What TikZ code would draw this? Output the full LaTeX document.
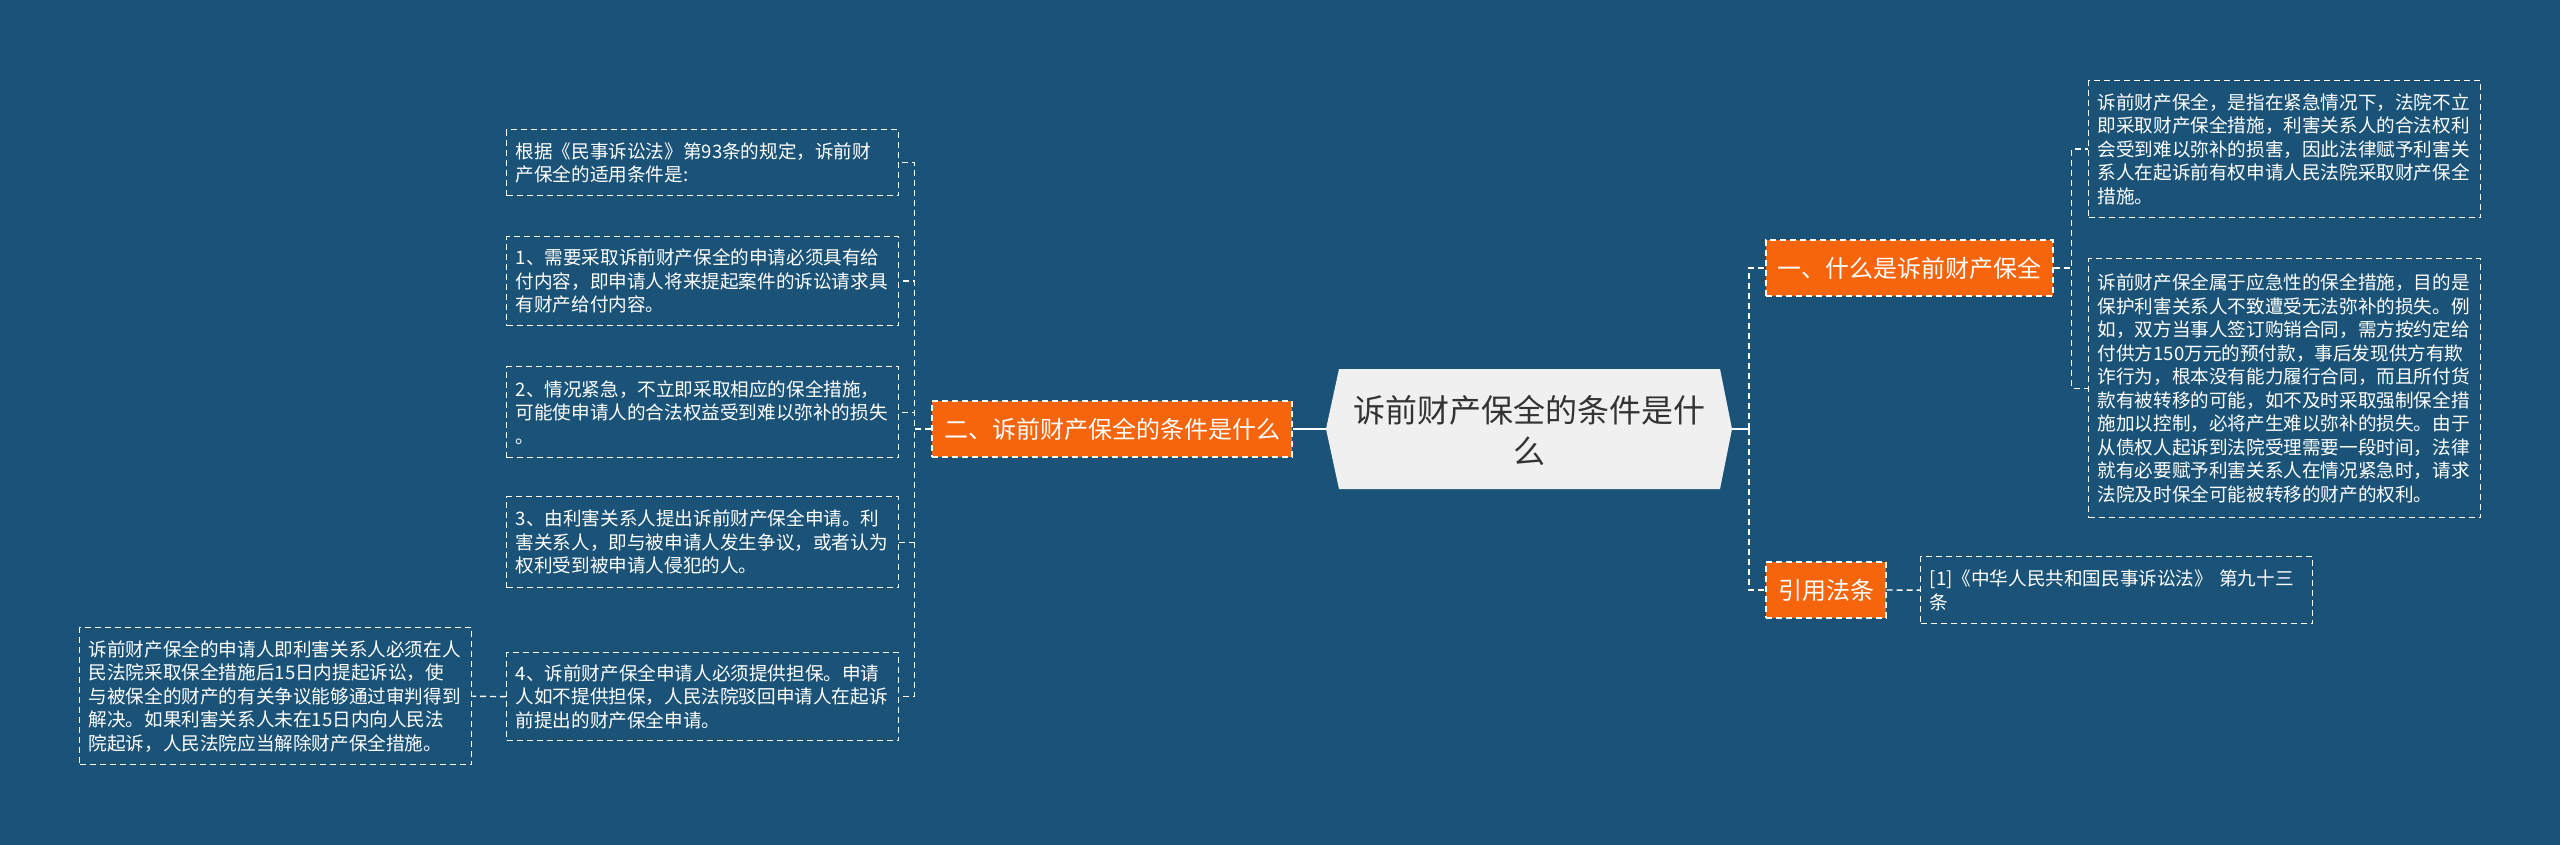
\documentclass[tikz,border=0pt]{standalone}
\usepackage{fontspec}
\newfontfamily\cjk{Noto Sans CJK SC}
\definecolor{bg}{HTML}{1A5377}
\definecolor{org}{HTML}{F6640C}
\definecolor{cfill}{HTML}{F0F0F0}
\definecolor{ctext}{HTML}{333333}
\begin{document}
\begin{tikzpicture}[x=0.5pt,y=-0.5pt,
  leaf/.style={draw=white, line width=0.7pt, dash pattern=on 3pt off 2pt, text=white,
    font=\cjk\fontsize{9.3pt}{11.75pt}\selectfont, align=left, inner xsep=4.5pt,
    inner ysep=0pt, text width=187pt, anchor=north west},
  branch/.style={fill=org, draw=white, line width=0.7pt, dash pattern=on 3pt off 2pt,
    text=white, font=\cjk\fontsize{12pt}{14pt}\selectfont, minimum height=28pt,
    inner xsep=0pt, inner ysep=0pt},
  conn/.style={draw=white, line width=0.7pt, dash pattern=on 3pt off 2pt},
  stub/.style={draw=white, line width=1pt}]
\fill[bg] (0,0) rectangle (2560,845);
\useasboundingbox (0,0) rectangle (2560,845);
% center
\fill[cfill] (1326,429) -- (1339,369) -- (1720,369) -- (1732,429) -- (1720,489) -- (1339,489) -- cycle;
\node[text=ctext, font=\cjk\fontsize{16pt}{20.5pt}\selectfont, align=center] (c) at (1529,430) {诉前财产保全的条件是什\\么};
\coordinate (cW) at (1326,429);
\coordinate (cE) at (1732,429);
\coordinate (jR) at (1749,429);
% branches
\node[branch, minimum width=180pt] (b2) at (1112,429) {二、诉前财产保全的条件是什么};
\node[branch, minimum width=143.5pt] (b1) at (1909.5,268) {一、什么是诉前财产保全};
\node[branch, minimum width=60pt] (b3) at (1826,590) {引用法条};
% left leaves
\node[leaf, minimum height=33pt] (l0) at (506,129) {根据《民事诉讼法》第93条的规定，诉前财\\产保全的适用条件是:};
\node[leaf, minimum height=44.5pt] (l1) at (506,236) {1、需要采取诉前财产保全的申请必须具有给\\付内容，即申请人将来提起案件的诉讼请求具\\有财产给付内容。};
\node[leaf, minimum height=45.5pt] (l2) at (506,366) {2、情况紧急，不立即采取相应的保全措施，\\可能使申请人的合法权益受到难以弥补的损失\\。};
\node[leaf, minimum height=45.5pt] (l3) at (506,496) {3、由利害关系人提出诉前财产保全申请。利\\害关系人，即与被申请人发生争议，或者认为\\权利受到被申请人侵犯的人。};
\node[leaf, minimum height=44pt] (l4) at (506,652) {4、诉前财产保全申请人必须提供担保。申请\\人如不提供担保，人民法院驳回申请人在起诉\\前提出的财产保全申请。};
\node[leaf, minimum height=68.5pt] (l5) at (79,627) {诉前财产保全的申请人即利害关系人必须在人\\民法院采取保全措施后15日内提起诉讼，使\\与被保全的财产的有关争议能够通过审判得到\\解决。如果利害关系人未在15日内向人民法\\院起诉，人民法院应当解除财产保全措施。};
% right leaves
\node[leaf, minimum height=68.5pt] (r1a) at (2088,80) {诉前财产保全，是指在紧急情况下，法院不立\\即采取财产保全措施，利害关系人的合法权利\\会受到难以弥补的损害，因此法律赋予利害关\\系人在起诉前有权申请人民法院采取财产保全\\措施。};
\node[leaf, minimum height=129.5pt] (r1b) at (2088,258) {诉前财产保全属于应急性的保全措施，目的是\\保护利害关系人不致遭受无法弥补的损失。例\\如，双方当事人签订购销合同，需方按约定给\\付供方150万元的预付款，事后发现供方有欺\\诈行为，根本没有能力履行合同，而且所付货\\款有被转移的可能，如不及时采取强制保全措\\施加以控制，必将产生难以弥补的损失。由于\\从债权人起诉到法院受理需要一段时间，法律\\就有必要赋予利害关系人在情况紧急时，请求\\法院及时保全可能被转移的财产的权利。};
\node[leaf, minimum height=33.5pt] (r2a) at (1920,556) {[1]《中华人民共和国民事诉讼法》 第九十三\\条};
% connectors
\draw[stub] (cW) -- (b2.east);
\draw[conn] (b2.west) -- ++(-17,0) |- (l0.east);
\draw[conn] (b2.west) -- ++(-17,0) |- (l1.east);
\draw[conn] (b2.west) -- ++(-17,0) |- (l2.east);
\draw[conn] (b2.west) -- ++(-17,0) |- (l3.east);
\draw[conn] (b2.west) -- ++(-17,0) |- (l4.east);
\draw[conn] (l4.west) -- (l5.east);
\draw[stub] (cE) -- (jR);
\draw[conn] (jR) |- (b1.west);
\draw[conn] (jR) |- (b3.west);
\draw[conn] (b1.east) -- ++(18,0) |- (r1a.west);
\draw[conn] (b1.east) -- ++(18,0) |- (r1b.west);
\draw[conn] (b3.east) -- (r2a.west);
\end{tikzpicture}
\end{document}
